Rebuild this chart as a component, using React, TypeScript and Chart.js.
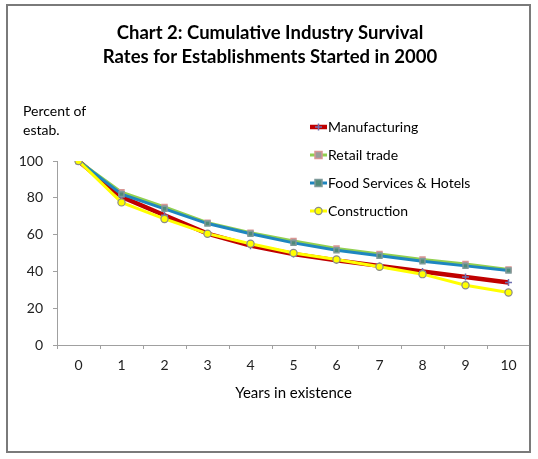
import React, { useEffect, useRef } from "react";
import { Chart, registerables } from "chart.js";

Chart.register(...registerables);

const TITLE_LINES = ["Chart 2: Cumulative Industry Survival", "Rates for Establishments Started in 2000"];
const Y_TITLE_LINES = ["Percent of", "estab."];
const X_TITLE = "Years in existence";
const YEARS = ["0", "1", "2", "3", "4", "5", "6", "7", "8", "9", "10"];
const SERIES_NAMES = ["Manufacturing", "Retail trade", "Food Services & Hotels", "Construction"];
const MANUFACTURING = [100, 80.5, 70.5, 60.5, 54, 49.5, 46, 43, 40, 37, 34];
const RETAIL = [100, 83, 75, 66.5, 61, 56.5, 52.5, 49.5, 46.5, 44, 41];
const FOOD = [100, 82, 74, 66, 60.5, 55.5, 51.5, 48.5, 45.5, 43, 40.5];
const CONSTRUCTION = [100, 77.5, 68.5, 60.5, 55, 50, 46.5, 42.5, 38.5, 32.5, 28.5];

const FONT = "Lato, 'Open Sans', sans-serif";

function drawMarker(ctx: CanvasRenderingContext2D, ds: any, x: number, y: number) {
  const r = ds.pointRadius;
  ctx.save();
  ctx.lineWidth = ds.pointBorderWidth;
  ctx.strokeStyle = ds.pointBorderColor;
  ctx.fillStyle = ds.pointBackgroundColor;
  ctx.beginPath();
  if (ds.pointStyle === "rect") {
    ctx.rect(x - r, y - r, 2 * r, 2 * r);
    ctx.fill();
    ctx.stroke();
  } else if (ds.pointStyle === "circle") {
    ctx.arc(x, y, r, 0, Math.PI * 2);
    ctx.fill();
    ctx.stroke();
  } else {
    ctx.moveTo(x - r, y);
    ctx.lineTo(x + r, y);
    ctx.moveTo(x, y - r);
    ctx.lineTo(x, y + r);
    ctx.stroke();
  }
  ctx.restore();
}

const decorPlugin = {
  id: "decor",
  afterDraw(chart: any) {
    const ctx: CanvasRenderingContext2D = chart.ctx;
    ctx.save();
    ctx.strokeStyle = "#7a7a7a";
    ctx.lineWidth = 2;
    ctx.strokeRect(7, 5, 523, 447);

    ctx.fillStyle = "#000";
    ctx.textBaseline = "middle";
    ctx.textAlign = "center";
    ctx.font = `bold 18.5px ${FONT}`;
    TITLE_LINES.forEach((t, i) => ctx.fillText(t, 270, 33 + i * 24));

    ctx.textAlign = "left";
    ctx.font = `14px ${FONT}`;
    Y_TITLE_LINES.forEach((t, i) => ctx.fillText(t, 23, 111 + i * 19));

    chart.data.datasets.forEach((ds: any, i: number) => {
      const y = 127 + i * 28;
      ctx.save();
      ctx.strokeStyle = ds.borderColor;
      ctx.lineWidth = ds.borderWidth;
      ctx.beginPath();
      ctx.moveTo(310, y);
      ctx.lineTo(327, y);
      ctx.stroke();
      ctx.restore();
      drawMarker(ctx, ds, 318.5, y);
      ctx.fillStyle = "#000";
      ctx.font = `14px ${FONT}`;
      ctx.textAlign = "left";
      ctx.fillText(ds.label, 328, y);
    });
    ctx.restore();
  },
};

export default function App() {
  const ref = useRef<HTMLCanvasElement | null>(null);
  useEffect(() => {
    if (!ref.current) return;
    const chart = new Chart(ref.current, {
      type: "line",
      data: {
        labels: YEARS,
        datasets: [
          {
            label: SERIES_NAMES[0],
            data: MANUFACTURING,
            borderColor: "#c00000",
            borderWidth: 4.5,
            pointStyle: "cross",
            pointRadius: 3.5,
            pointBorderWidth: 1.5,
            pointBorderColor: "#7070b0",
            pointBackgroundColor: "#7070b0",
            order: 4,
          },
          {
            label: SERIES_NAMES[1],
            data: RETAIL,
            borderColor: "#92d050",
            borderWidth: 3,
            pointStyle: "rect",
            pointRadius: 3.5,
            pointBorderWidth: 1.5,
            pointBorderColor: "#d99694",
            pointBackgroundColor: "#9a9a9a",
            order: 3,
          },
          {
            label: SERIES_NAMES[2],
            data: FOOD,
            borderColor: "#1e86c0",
            borderWidth: 3,
            pointStyle: "rect",
            pointRadius: 3.5,
            pointBorderWidth: 1.5,
            pointBorderColor: "#7f9a9a",
            pointBackgroundColor: "#4f8a78",
            order: 2,
          },
          {
            label: SERIES_NAMES[3],
            data: CONSTRUCTION,
            borderColor: "#ffff00",
            borderWidth: 3,
            pointStyle: "circle",
            pointRadius: 3.6,
            pointBorderWidth: 1.2,
            pointBorderColor: "#8a8a8a",
            pointBackgroundColor: "#ffff00",
            order: 1,
          },
        ] as any,
      },
      options: {
        animation: false,
        responsive: false,
        layout: { padding: { top: 161, left: 0, right: 8, bottom: 53 } },
        plugins: { legend: { display: false }, title: { display: false }, tooltip: { enabled: false } },
        elements: { line: { tension: 0 } },
        scales: {
          x: {
            type: "category",
            offset: true,
            grid: { display: true, drawOnChartArea: false, drawTicks: true, tickLength: 4, offset: true, color: "#a0a0a0" },
            border: { display: true, color: "#a0a0a0", width: 1 },
            ticks: { color: "#222", font: { family: FONT, size: 14 }, padding: 8, maxRotation: 0, autoSkip: false },
            title: { display: true, text: X_TITLE, color: "#000", font: { family: FONT, size: 15 }, padding: { top: 4, bottom: 4 } },
            afterFit: (s: any) => {
              s.height = 61;
            },
          },
          y: {
            min: 0,
            max: 100,
            ticks: { stepSize: 20, color: "#222", font: { family: FONT, size: 14 }, padding: 10 },
            grid: { display: true, drawOnChartArea: false, drawTicks: true, tickLength: 4, color: "#a0a0a0" },
            border: { display: true, color: "#a0a0a0", width: 1 },
            afterFit: (s: any) => {
              s.width = 57;
            },
          },
        },
      } as any,
      plugins: [decorPlugin],
    });
    return () => chart.destroy();
  }, []);
  return (
    <div style={{ position: "fixed", left: 0, top: 0, width: 538, height: 459, background: "#fff" }}>
      <canvas ref={ref} width={538} height={459} />
    </div>
  );
}
